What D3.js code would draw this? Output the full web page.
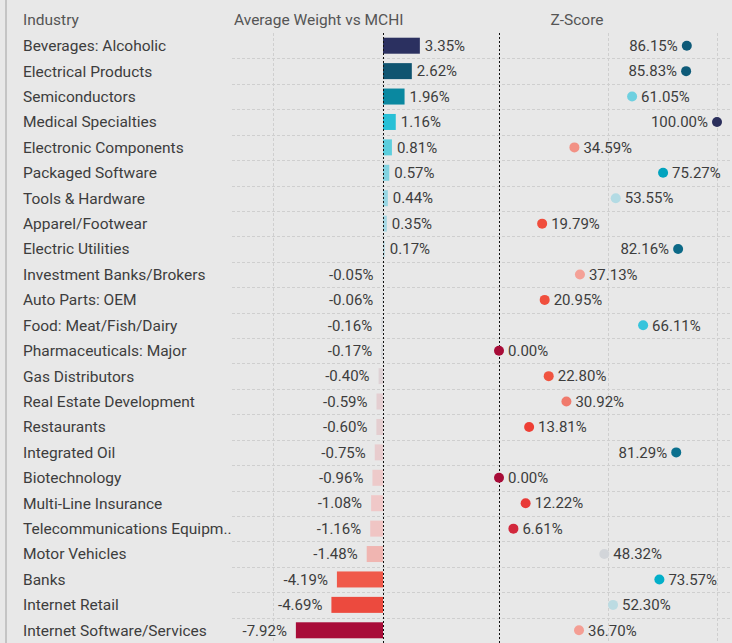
<!DOCTYPE html>
<html>
<head>
<meta charset="utf-8">
<script src="https://cdn.jsdelivr.net/npm/d3@7"></script>
<style>
  html, body { margin: 0; padding: 0; background: #e8e8e8; }
  svg { display: block; font-family: Roboto, "Noto Sans", sans-serif; }
</style>
</head>
<body>
<svg id="chart" width="732" height="643"></svg>
<script>
// Industry rows, top to bottom
const industries = [
  "Beverages: Alcoholic", "Electrical Products", "Semiconductors", "Medical Specialties",
  "Electronic Components", "Packaged Software", "Tools & Hardware", "Apparel/Footwear",
  "Electric Utilities", "Investment Banks/Brokers", "Auto Parts: OEM", "Food: Meat/Fish/Dairy",
  "Pharmaceuticals: Major", "Gas Distributors", "Real Estate Development", "Restaurants",
  "Integrated Oil", "Biotechnology", "Multi-Line Insurance", "Telecommunications Equipment",
  "Motor Vehicles", "Banks", "Internet Retail", "Internet Software/Services"
];
// Average weight vs MCHI (%)
const avgWeight = [
  3.35, 2.62, 1.96, 1.16, 0.81, 0.57, 0.44, 0.35, 0.17, -0.05, -0.06, -0.16,
  -0.17, -0.40, -0.59, -0.60, -0.75, -0.96, -1.08, -1.16, -1.48, -4.19, -4.69, -7.92
];
// Z-Score (%)
const zScore = [
  86.15, 85.83, 61.05, 100.00, 34.59, 75.27, 53.55, 19.79, 82.16, 37.13, 20.95, 66.11,
  0.00, 22.80, 30.92, 13.81, 81.29, 0.00, 12.22, 6.61, 48.32, 73.57, 52.30, 36.70
];
const headers = ["Industry", "Average Weight vs MCHI", "Z-Score"];

const svg = d3.select("#chart");
const W = 732, H = 643;
const plotTop = 33;
const textColor = "#3d3d3d";

const rows = industries.map((name, i) => ({ name, w: avgWeight[i], z: zScore[i] }));

const y = d3.scaleBand().domain(industries).range([plotTop, H]).paddingInner(0);
const xW = d3.scaleLinear().domain([-10, 0]).range([273, 383]);
const xZ = d3.scaleLinear().domain([0, 100]).range([499, 717]);

const weightColor = d3.scaleLinear()
  .domain([-7.92, -4.5, -1.5, -1.1, -0.5, 0, 0.35, 0.8, 1.16, 1.96, 2.62, 3.35])
  .range(["#a80c38", "#f04e3e", "#f0b4b0", "#f0c8c8", "#e2cfd2", "#d0dce0", "#a6d8e4", "#5ccedd", "#28c0d6", "#0a88a0", "#0f5470", "#2b3060"])
  .clamp(true);
const zColor = d3.scaleLinear()
  .domain([0, 7, 14, 23, 31, 37, 48, 53, 61, 66, 74, 82, 86, 100])
  .range(["#a80c38", "#d42a3c", "#ef4035", "#f05440", "#f07a6c", "#f4a096", "#d4d4d8", "#b8dce4", "#6fd0e0", "#38c4dc", "#00aec8", "#0c6a88", "#0e5a78", "#2b2f5c"])
  .clamp(true);

// left frame line
svg.append("rect").attr("x", 5).attr("y", 0).attr("width", 2).attr("height", H).attr("fill", "#c4c4c4");

// horizontal row separators
const grid = svg.append("g");
rows.slice(1).forEach(d => {
  grid.append("line")
    .attr("x1", 232).attr("x2", W)
    .attr("y1", Math.round(y(d.name)) + 0.5).attr("y2", Math.round(y(d.name)) + 0.5)
    .attr("stroke", "#cfcfcf").attr("stroke-dasharray", "3,2");
});
// vertical gridlines
[xW(-10), xZ(50), xZ(100)].forEach(x => {
  grid.append("line")
    .attr("x1", Math.round(x) + 0.5).attr("x2", Math.round(x) + 0.5)
    .attr("y1", plotTop).attr("y2", H)
    .attr("stroke", "#cfcfcf").attr("stroke-dasharray", "3,2");
});

// headers
const hdr = svg.append("g").attr("fill", "#555").attr("font-size", 15.5);
hdr.append("text").attr("x", 23).attr("y", 25).text(headers[0]);
hdr.append("text").attr("x", 234).attr("y", 25).text(headers[1]);
hdr.append("text").attr("x", 577).attr("y", 25).attr("text-anchor", "middle").text(headers[2]);

// industry labels, truncated to the column width
const labels = svg.append("g").attr("fill", textColor).attr("font-size", 15.5);
rows.forEach(d => {
  const t = labels.append("text")
    .attr("x", 23).attr("y", y(d.name) + y.bandwidth() / 2)
    .attr("dy", "0.35em").text(d.name);
  let s = d.name;
  while (t.node().getComputedTextLength() > 210 && s.length > 1) {
    s = s.slice(0, -1);
    t.text(s.trimEnd() + "..");
  }
});

// weight bars
const bars = svg.append("g");
const barH = 16;
rows.forEach(d => {
  const x0 = xW(0), x1 = xW(d.w);
  bars.append("rect")
    .attr("x", Math.min(x0, x1)).attr("width", Math.abs(x1 - x0))
    .attr("y", y(d.name) + (y.bandwidth() - barH) / 2).attr("height", barH)
    .attr("fill", weightColor(d.w));
  bars.append("text")
    .attr("x", d.w >= 0 ? x1 + 5 : Math.min(x1, x0) - 9)
    .attr("y", y(d.name) + y.bandwidth() / 2).attr("dy", "0.35em")
    .attr("text-anchor", d.w >= 0 ? "start" : "end")
    .attr("fill", textColor).attr("font-size", 15)
    .text(d.w.toFixed(2) + "%");
});

// zero reference lines
[xW(0), xZ(0)].forEach(x => {
  svg.append("line")
    .attr("x1", Math.round(x) + 0.5).attr("x2", Math.round(x) + 0.5)
    .attr("y1", plotTop).attr("y2", H)
    .attr("stroke", "#111").attr("stroke-width", 1).attr("stroke-dasharray", "2,2");
});

// z-score dots
const dots = svg.append("g");
rows.forEach(d => {
  const cx = xZ(d.z), cy = y(d.name) + y.bandwidth() / 2;
  dots.append("circle").attr("cx", cx).attr("cy", cy).attr("r", 5).attr("fill", zColor(d.z));
  const left = d.z >= 80;
  dots.append("text")
    .attr("x", left ? cx - 9 : cx + 9).attr("y", cy).attr("dy", "0.35em")
    .attr("text-anchor", left ? "end" : "start")
    .attr("fill", textColor).attr("font-size", 15)
    .text(d.z.toFixed(2) + "%");
});
</script>
</body>
</html>
